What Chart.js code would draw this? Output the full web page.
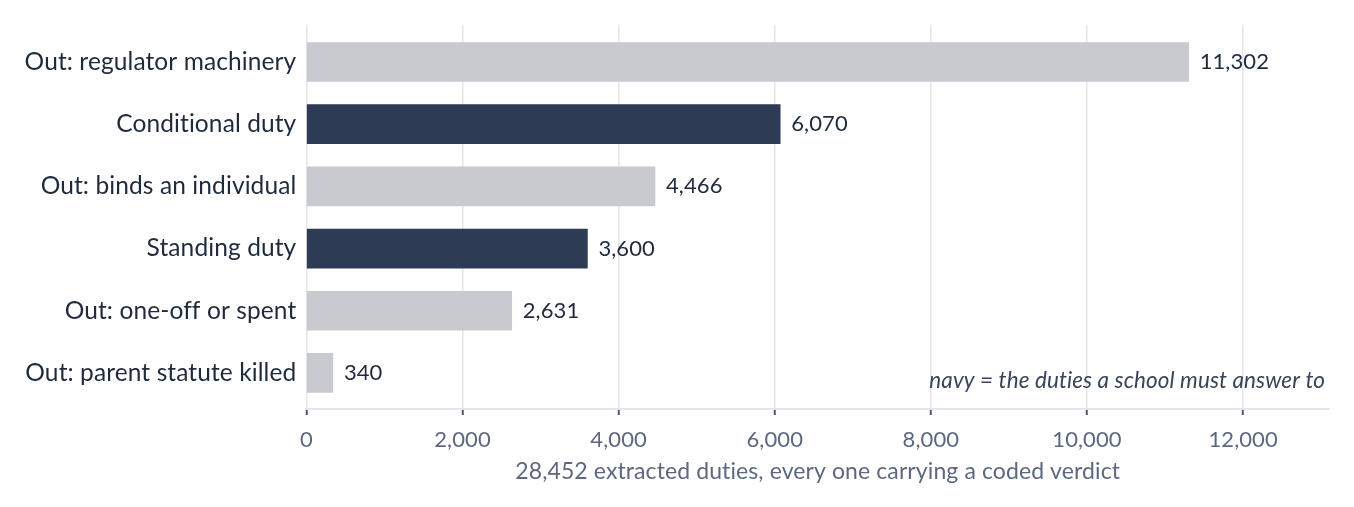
<!DOCTYPE html>
<html>
<head>
<meta charset="utf-8">
<script src="https://cdn.jsdelivr.net/npm/chart.js@4.4.1/dist/chart.umd.min.js"></script>
<style>
  html, body { margin: 0; padding: 0; background: #fff; }
  #wrap { position: relative; width: 1354px; height: 507px; }
</style>
</head>
<body>
<div id="wrap"><canvas id="c" width="1354" height="507"></canvas></div>
<script>
const categories = [
  'Out: regulator machinery',
  'Conditional duty',
  'Out: binds an individual',
  'Standing duty',
  'Out: one-off or spent',
  'Out: parent statute killed',
];
const counts = [11302, 6070, 4466, 3600, 2631, 340];
const inScope = [false, true, false, true, false, false];
const xTicks = [0, 2000, 4000, 6000, 8000, 10000, 12000];
const xTitle = '28,452 extracted duties, every one carrying a coded verdict';
const noteText = 'navy = the duties a school must answer to';

const NAVY = '#2e3b55';
const GREY = '#c9cad0';
const INK = '#1f2a3d';
const SLATE = '#5d6880';
const FONT = 'Lato, "Open Sans", sans-serif';

const fmt = n => n.toLocaleString('en-US');

// Lato's "ti" ligature isn't in the reference; a hair of letter spacing turns it off
const noLigatures = {
  id: 'no-ligatures',
  beforeDraw(chart) {
    chart.ctx.letterSpacing = '0.1px';
  },
};

// value labels at bar ends + the italic footnote in the corner
const valueLabels = {
  id: 'value-labels',
  afterDatasetsDraw(chart) {
    const ctx = chart.ctx;
    const meta = chart.getDatasetMeta(0);
    ctx.save();
    ctx.font = '22px ' + FONT;
    ctx.fillStyle = INK;
    ctx.textAlign = 'left';
    ctx.textBaseline = 'middle';
    meta.data.forEach((bar, i) => {
      ctx.fillText(fmt(counts[i]), bar.x + 11, bar.y);
    });
    const area = chart.chartArea;
    ctx.font = 'italic 22.5px ' + FONT;
    ctx.fillStyle = '#3a4458';
    ctx.textAlign = 'right';
    ctx.fillText(noteText, area.right - 4, area.bottom - 28);
    ctx.restore();
  },
};

new Chart(document.getElementById('c'), {
  type: 'bar',
  data: {
    datasets: [{
      data: counts.map((v, i) => ({ x: v, y: i })),
      backgroundColor: inScope.map(s => s ? NAVY : GREY),
      barThickness: 39,
      borderWidth: 0,
    }],
  },
  options: {
    indexAxis: 'y',
    responsive: false,
    animation: false,
    devicePixelRatio: 1,
    layout: { padding: { top: 24, right: 25, left: 17, bottom: 22 } },
    scales: {
      x: {
        type: 'linear',
        min: 0,
        max: 13100,
        afterBuildTicks: axis => { axis.ticks = xTicks.map(v => ({ value: v })); },
        ticks: {
          color: SLATE,
          font: { family: FONT, size: 22 },
          padding: 12,
          callback: v => fmt(v),
        },
        grid: { color: '#e4e5ea', lineWidth: 1.5, tickColor: '#4a5570', tickLength: 6, tickWidth: 2 },
        border: { color: '#e4e5ea', width: 2 },
        title: {
          display: true,
          text: xTitle,
          color: SLATE,
          font: { family: FONT, size: 23 },
          padding: { top: -8, bottom: 0 },
        },
      },
      y: {
        type: 'linear',
        reverse: true,
        offset: false,
        min: -0.6,
        max: 5.58,
        afterBuildTicks: axis => { axis.ticks = categories.map((_, i) => ({ value: i })); },
        ticks: {
          color: INK,
          font: { family: FONT, size: 24.5 },
          padding: 10,
          callback: v => categories[v] ?? '',
        },
        grid: { display: false, drawTicks: false, offset: false },
        border: { display: false },
      },
    },
    plugins: {
      legend: { display: false },
      tooltip: { enabled: false },
    },
  },
  plugins: [noLigatures, valueLabels],
});
</script>
</body>
</html>
